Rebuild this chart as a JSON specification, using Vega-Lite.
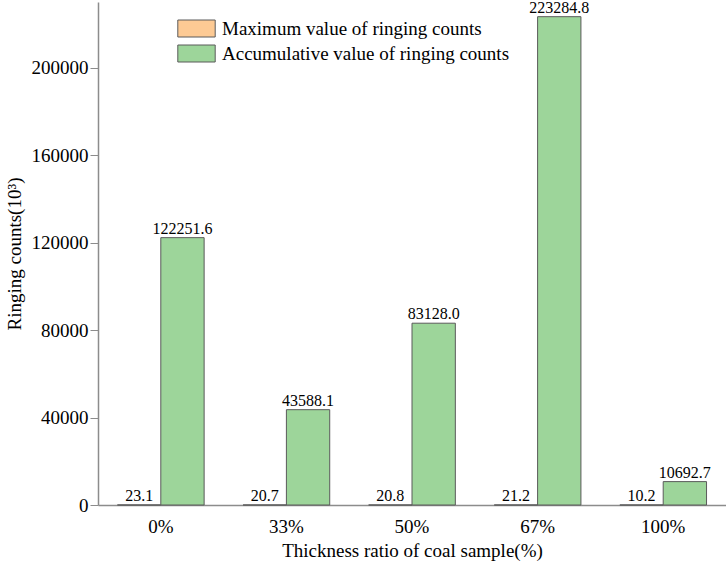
{
  "$schema": "https://vega.github.io/schema/vega-lite/v6.json",
  "width": 628,
  "height": 503,
  "autosize": "none",
  "padding": {"left": 98, "top": 2, "right": 0, "bottom": 57},
  "background": "white",
  "config": {
    "view": {"stroke": null},
    "font": "Liberation Serif, DejaVu Serif, serif",
    "axis": {"labelFont": "Liberation Serif, DejaVu Serif, serif", "titleFont": "Liberation Serif, DejaVu Serif, serif"},
    "legend": {"labelFont": "Liberation Serif, DejaVu Serif, serif"},
    "text": {"font": "Liberation Serif, DejaVu Serif, serif"}
  },
  "data": {
    "values": [
      {"ratio": "0%", "series": "Maximum value of ringing counts", "value": 23.1},
      {"ratio": "0%", "series": "Accumulative value of ringing counts", "value": 122251.6},
      {"ratio": "33%", "series": "Maximum value of ringing counts", "value": 20.7},
      {"ratio": "33%", "series": "Accumulative value of ringing counts", "value": 43588.1},
      {"ratio": "50%", "series": "Maximum value of ringing counts", "value": 20.8},
      {"ratio": "50%", "series": "Accumulative value of ringing counts", "value": 83128.0},
      {"ratio": "67%", "series": "Maximum value of ringing counts", "value": 21.2},
      {"ratio": "67%", "series": "Accumulative value of ringing counts", "value": 223284.8},
      {"ratio": "100%", "series": "Maximum value of ringing counts", "value": 10.2},
      {"ratio": "100%", "series": "Accumulative value of ringing counts", "value": 10692.7}
    ]
  },
  "encoding": {
    "x": {
      "field": "ratio",
      "type": "nominal",
      "sort": ["0%", "33%", "50%", "67%", "100%"],
      "scale": {"paddingInner": 0.31, "paddingOuter": 0.155},
      "axis": {
        "title": "Thickness ratio of coal sample(%)",
        "titleFontSize": 19,
        "titleFontWeight": "normal",
        "titleColor": "black",
        "titlePadding": 5,
        "labelAngle": 0,
        "labelFontSize": 19,
        "labelColor": "black",
        "labelPadding": 12,
        "ticks": false,
        "domainColor": "#8c8c8c",
        "domainWidth": 1.5
      }
    },
    "xOffset": {
      "field": "series",
      "sort": ["Maximum value of ringing counts", "Accumulative value of ringing counts"]
    },
    "y": {
      "field": "value",
      "type": "quantitative",
      "scale": {"domain": [0, 230000], "nice": false},
      "axis": {
        "title": "Ringing counts(10³)",
        "titleFontSize": 19,
        "titleFontWeight": "normal",
        "titleColor": "black",
        "titlePadding": 7,
        "values": [0, 40000, 80000, 120000, 160000, 200000],
        "format": "d",
        "grid": false,
        "labelFontSize": 19,
        "labelColor": "black",
        "labelPadding": 2,
        "tickSize": 8,
        "tickColor": "#8c8c8c",
        "domainColor": "#8c8c8c",
        "domainWidth": 1.5
      }
    }
  },
  "layer": [
    {
      "mark": {"type": "bar", "stroke": "#5a5a5a", "strokeWidth": 1},
      "encoding": {
        "color": {
          "field": "series",
          "type": "nominal",
          "sort": ["Maximum value of ringing counts", "Accumulative value of ringing counts"],
          "scale": {"range": ["#fdca94", "#9dd59a"]},
          "legend": {
            "title": null,
            "orient": "none",
            "legendX": 89,
            "legendY": 17,
            "symbolType": "M-2.2,-1H2.2V1H-2.2Z",
            "symbolSize": 289,
            "symbolStrokeColor": "#5a5a5a",
            "symbolStrokeWidth": 1,
            "symbolOpacity": 1,
            "labelFontSize": 19,
            "labelColor": "black",
            "labelOffset": 16,
            "rowPadding": 4,
            "labelLimit": 400
          }
        }
      }
    },
    {
      "mark": {"type": "text", "baseline": "bottom", "dy": -1, "fontSize": 16, "color": "black"},
      "encoding": {
        "text": {"field": "value", "type": "quantitative", "format": ".1f"}
      }
    }
  ]
}
